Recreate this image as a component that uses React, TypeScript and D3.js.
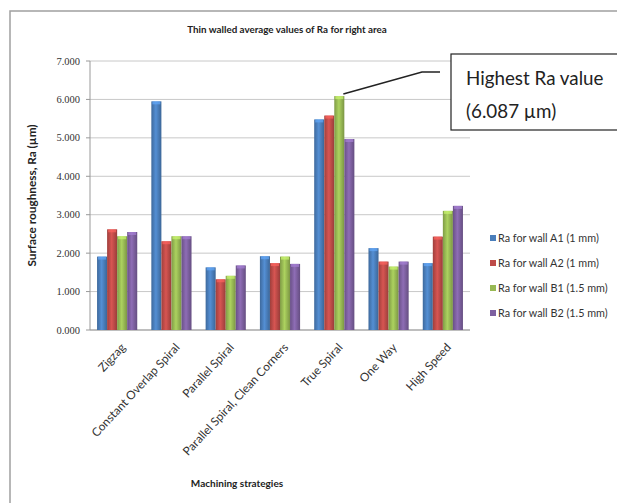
import React from 'react';
import * as d3 from 'd3';

const categories = [
  'Zigzag',
  'Constant Overlap Spiral',
  'Parallel Spiral',
  'Parallel Spiral, Clean Corners',
  'True Spiral',
  'One Way',
  'High Speed',
];
const seriesNames = [
  'Ra for wall A1 (1 mm)',
  'Ra for wall A2 (1 mm)',
  'Ra for wall B1 (1.5 mm)',
  'Ra for wall B2 (1.5 mm)',
];
const wallA1 = [1.91, 5.95, 1.63, 1.92, 5.48, 2.13, 1.74];
const wallA2 = [2.62, 2.31, 1.32, 1.74, 5.58, 1.78, 2.43];
const wallB1 = [2.44, 2.44, 1.41, 1.91, 6.087, 1.65, 3.1];
const wallB2 = [2.55, 2.44, 1.68, 1.72, 4.97, 1.78, 3.23];
const yTicks = [0, 1, 2, 3, 4, 5, 6, 7];
const colors = ['#4A7EBB', '#BE4B48', '#98B954', '#7D60A0'];

const series = [wallA1, wallA2, wallB1, wallB2];
const calibri = "Lato, 'Open Sans', sans-serif";

export default function App() {
  const left = 90;
  const right = 470;
  const top = 61;
  const bottom = 330;

  const x0 = d3.scaleBand<string>().domain(categories).range([left, right]).paddingInner(0.26).paddingOuter(0.13);
  const x1 = d3.scaleBand<number>().domain(d3.range(series.length)).range([0, x0.bandwidth()]);
  const y = d3.scaleLinear().domain([0, 7]).range([bottom, top]);

  const peakIdx = wallB1.indexOf(d3.max(wallB1) as number);
  const peakX = (x0(categories[peakIdx]) as number) + (x1(2) as number) + x1.bandwidth();
  const peakY = y(wallB1[peakIdx]);

  return (
    <svg width={617} height={503} style={{ position: 'absolute', left: 0, top: 0 }}>
      <defs>
        {colors.map((c, i) => (
          <linearGradient key={i} id={`g${i}`} x1="0" x2="1" y1="0" y2="0">
            <stop offset="0%" stopColor={d3.color(c)!.darker(0.5).toString()} />
            <stop offset="45%" stopColor={d3.color(c)!.brighter(0.35).toString()} />
            <stop offset="100%" stopColor={d3.color(c)!.darker(0.6).toString()} />
          </linearGradient>
        ))}
      </defs>
      <rect x={0} y={0} width={617} height={503} fill="#fff" />
      <rect x={10} y={11} width={620} height={520} fill="#fff" stroke="#a0a0a0" strokeWidth={1.5} />

      <text x={287} y={33} textAnchor="middle" fontFamily={calibri} fontWeight="bold" fontSize={9.8} fill="#222">
        Thin walled average values of Ra for right area
      </text>

      {yTicks.map(t => (
        <g key={t}>
          <line x1={left} x2={right} y1={y(t)} y2={y(t)} stroke="#c8c8c8" strokeWidth={1} />
          <line x1={left - 4} x2={left} y1={y(t)} y2={y(t)} stroke="#999" />
          <text x={80} y={y(t) + 3.5} textAnchor="end" fontFamily="'Liberation Serif', serif" fontSize={10.5} fill="#333">
            {d3.format('.3f')(t)}
          </text>
        </g>
      ))}
      <line x1={left} x2={left} y1={top} y2={bottom} stroke="#999" />
      <line x1={left} x2={right} y1={bottom} y2={bottom} stroke="#999" />

      {categories.map((c, ci) => (
        <g key={c} transform={`translate(${x0(c)},0)`}>
          {series.map((s, si) => (
            <g key={si}>
              <rect
                x={x1(si)}
                y={y(s[ci])}
                width={x1.bandwidth()}
                height={y(0) - y(s[ci])}
                fill={`url(#g${si})`}
              />
              <rect
                x={(x1(si) as number) + 1}
                y={y(s[ci])}
                width={x1.bandwidth() - 2}
                height={3}
                fill={d3.color(colors[si])!.brighter(0.8).toString()}
                opacity={0.7}
              />
            </g>
          ))}
        </g>
      ))}

      {categories.map(c => {
        const cx = (x0(c) as number) + x0.bandwidth() / 2 + 9;
        return (
          <text
            key={c}
            transform={`translate(${cx},${bottom + 18}) rotate(-47)`}
            textAnchor="end"
            fontFamily={calibri}
            fontSize={11.8}
            fill="#333"
          >
            {c}
          </text>
        );
      })}

      <text
        transform={`translate(36,${(top + bottom) / 2}) rotate(-90)`}
        textAnchor="middle"
        fontFamily={calibri}
        fontWeight="bold"
        fontSize={11.8}
        fill="#222"
      >
        Surface roughness, Ra (µm)
      </text>
      <text x={237} y={487} textAnchor="middle" fontFamily={calibri} fontWeight="bold" fontSize={10} fill="#222">
        Machining strategies
      </text>

      {seriesNames.map((n, i) => (
        <g key={n} transform={`translate(490,${242 + i * 25})`}>
          <rect x={0} y={-7} width={6} height={6} fill={colors[i]} />
          <text x={8} y={0} fontFamily={calibri} fontSize={10.8} fill="#333">
            {n}
          </text>
        </g>
      ))}

      <polyline
        points={`${peakX - 1},${peakY - 2} 422,72 440,72`}
        fill="none"
        stroke="#222"
        strokeWidth={1.5}
      />
      <rect x={451} y={54} width={200} height={76} fill="#fff" stroke="#222" strokeWidth={1.2} />
      <text x={466} y={85} fontFamily={calibri} fontSize={18.8} fill="#222">
        Highest Ra value
      </text>
      <text x={466} y={118} fontFamily={calibri} fontSize={18.8} fill="#222">
        (6.087 µm)
      </text>
    </svg>
  );
}
